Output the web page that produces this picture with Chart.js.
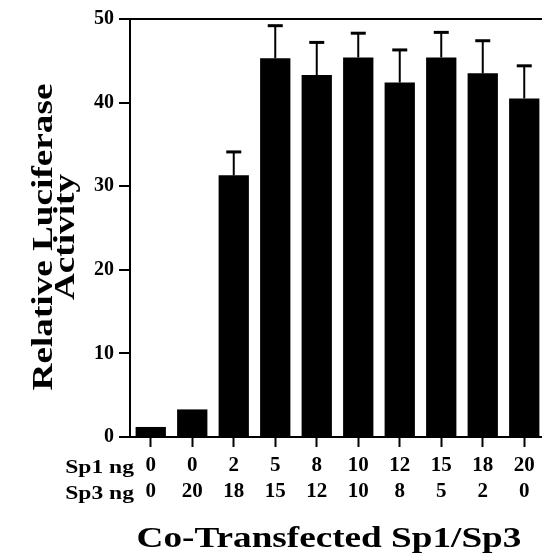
<!DOCTYPE html>
<html>
<head>
<meta charset="utf-8">
<script src="https://cdn.jsdelivr.net/npm/chart.js@4"></script>
<style>
  html, body { margin: 0; padding: 0; background: #fff; overflow: hidden; }
  #wrap { position: relative; width: 545px; height: 557px; }
</style>
</head>
<body>
<div id="wrap"><canvas id="c" width="545" height="557"></canvas></div>
<script>
// ---- data ----
const sp1Labels = ['0', '0', '2', '5', '8', '10', '12', '15', '18', '20'];
const sp3Labels = ['0', '20', '18', '15', '12', '10', '8', '5', '2', '0'];
const activity = [1.2, 3.3, 31.3, 45.3, 43.3, 45.4, 42.4, 45.4, 43.5, 40.5];
const activityErr = [0, 0, 2.8, 3.9, 3.9, 2.9, 3.9, 3.0, 3.9, 3.9];
const yTicks = [0, 10, 20, 30, 40, 50];
const rowNames = ['Sp1 ng', 'Sp3 ng'];
const yTitle = ['Relative Luciferase', 'Activity'];
const xTitle = 'Co-Transfected Sp1/Sp3';

const SERIF = '"Liberation Serif", "Times New Roman", serif';
const STRETCH = 1.24;

function drawStretched(ctx, text, x, y, size, align) {
  ctx.save();
  ctx.font = 'bold ' + size + 'px ' + SERIF;
  ctx.textBaseline = 'alphabetic';
  const w = ctx.measureText(text).width * STRETCH;
  let left = x;
  if (align === 'center') left = x - w / 2;
  else if (align === 'right') left = x - w;
  ctx.translate(left, y);
  ctx.scale(STRETCH, 1);
  ctx.textAlign = 'left';
  ctx.fillStyle = '#000';
  ctx.fillText(text, 0, 0);
  ctx.restore();
}

const errorBars = {
  id: 'errorBars',
  afterDatasetsDraw(chart) {
    const ctx = chart.ctx;
    const meta = chart.getDatasetMeta(0);
    const y = chart.scales.y;
    ctx.save();
    ctx.strokeStyle = '#000';
    meta.data.forEach((bar, i) => {
      const e = activityErr[i];
      if (!e) return;
      const top = y.getPixelForValue(activity[i]);
      const hi = y.getPixelForValue(activity[i] + e);
      ctx.lineWidth = 2;
      ctx.beginPath();
      ctx.moveTo(bar.x, top);
      ctx.lineTo(bar.x, hi);
      ctx.stroke();
      ctx.lineWidth = 3;
      ctx.beginPath();
      ctx.moveTo(bar.x - 7.5, hi);
      ctx.lineTo(bar.x + 7.5, hi);
      ctx.stroke();
    });
    ctx.restore();
  }
};

const extraText = {
  id: 'extraText',
  afterDraw(chart) {
    const ctx = chart.ctx;
    // row names for the two label rows
    drawStretched(ctx, rowNames[0], 134, 473, 19, 'right');
    drawStretched(ctx, rowNames[1], 134, 499, 19, 'right');
    // x title
    drawStretched(ctx, xTitle, 329, 547, 30, 'center');
    // y title (rotated)
    const cy = 237;
    [[yTitle[0], 52], [yTitle[1], 74]].forEach(([t, bx]) => {
      ctx.save();
      ctx.translate(bx, cy);
      ctx.rotate(-Math.PI / 2);
      drawStretched(ctx, t, 0, 0, 30, 'center');
      ctx.restore();
    });
  }
};

new Chart(document.getElementById('c'), {
  type: 'bar',
  data: {
    labels: sp1Labels.map((s, i) => [s, sp3Labels[i]]),
    datasets: [{
      data: activity,
      backgroundColor: '#000',
      borderWidth: 0,
      barPercentage: 0.73,
      categoryPercentage: 1.0
    }]
  },
  options: {
    responsive: false,
    animation: false,
    devicePixelRatio: 1,
    layout: { padding: { top: 19, left: 0, right: 0, bottom: 0 } },
    plugins: { legend: { display: false }, tooltip: { enabled: false } },
    scales: {
      x: {
        offset: true,
        border: { display: true, color: '#000', width: 2 },
        grid: {
          display: true, drawOnChartArea: false, offset: false,
          tickLength: 10, tickColor: '#000', tickWidth: 2, color: '#000'
        },
        ticks: {
          color: '#000', padding: 6, maxRotation: 0, autoSkip: false,
          font: { family: SERIF, size: 21, weight: 'bold', lineHeight: 1.24 }
        },
        afterFit(scale) { scale.height = 120; }
      },
      y: {
        min: 0, max: 50,
        afterBuildTicks(scale) { scale.ticks = yTicks.map(v => ({ value: v })); },
        border: { display: true, color: '#000', width: 2 },
        grid: {
          display: true, drawOnChartArea: true,
          color: (c) => (c.tick && c.tick.value === 50) ? '#000' : 'rgba(0,0,0,0)',
          lineWidth: 2, tickColor: '#000', tickWidth: 2, tickLength: 11
        },
        ticks: {
          color: '#000', padding: 5,
          font: { family: SERIF, size: 20, weight: 'bold' }
        },
        afterFit(scale) { scale.width = 130; }
      }
    }
  },
  plugins: [errorBars, extraText]
});
</script>
</body>
</html>
